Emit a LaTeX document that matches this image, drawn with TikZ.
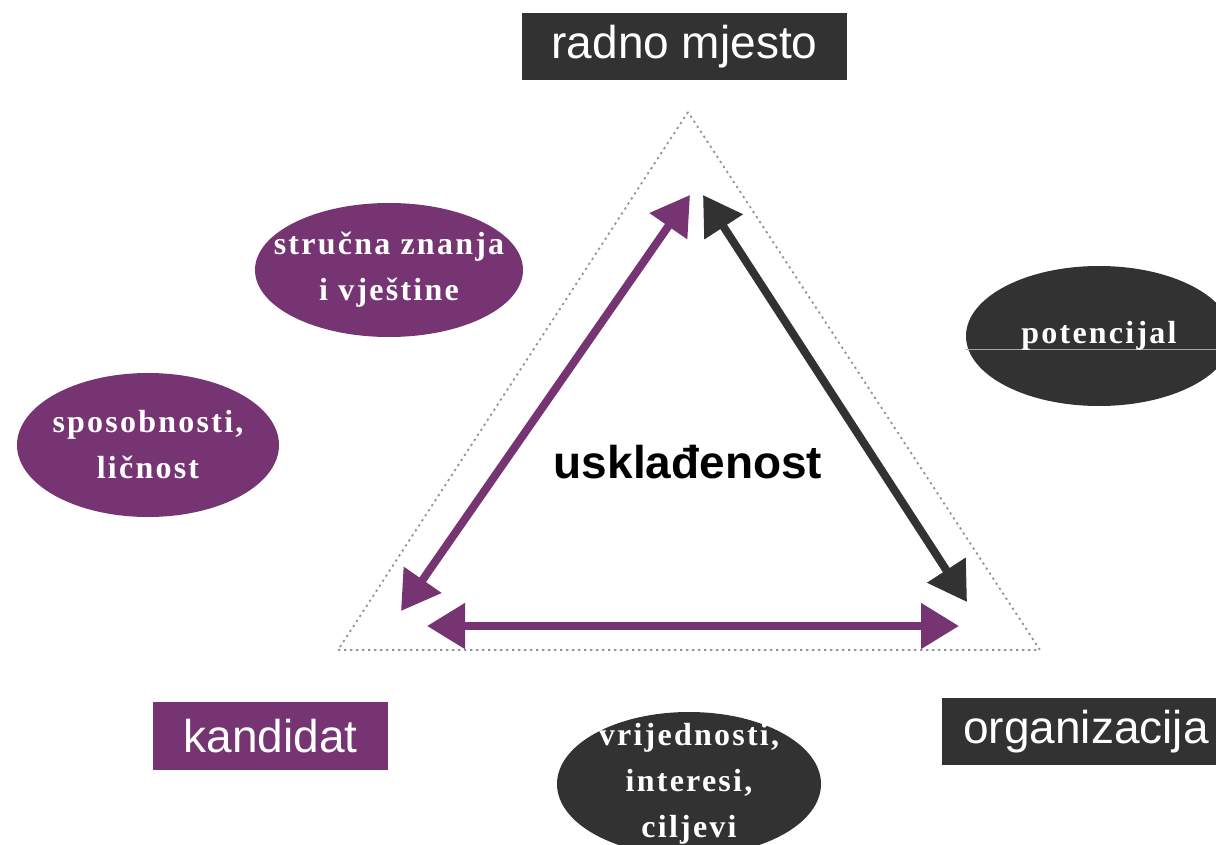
\documentclass[tikz,border=0pt]{standalone}
\usepackage{fontspec}
\setmainfont{Liberation Serif}
\newfontfamily\boxfont{Liberation Sans}
\newfontfamily\ellfont[LetterSpace=7]{Liberation Serif}
\usetikzlibrary{arrows.meta,shapes.geometric}
\definecolor{dark}{RGB}{50,50,50}
\definecolor{plum}{RGB}{118,52,114}
\tikzset{
  lbl/.style={inner sep=0pt, text=white, font=\boxfont\fontsize{46}{50}\selectfont},
  boxn/.style={draw=none, minimum height=67pt},
  ell/.style={ellipse, inner sep=0pt, draw=none},
  elltext/.style={text=white, align=center, font=\ellfont\bfseries\fontsize{32}{46}\selectfont},
  arr/.style={line width=8pt, {Triangle[length=38pt,width=44pt]}-{Triangle[length=38pt,width=44pt]}},
  tri/.style={draw=gray!85, line width=1.8pt, dash pattern=on 2.2pt off 3.8pt}
}
\begin{document}
\begin{tikzpicture}[x=1pt,y=-1pt]
\useasboundingbox (0,0) rectangle (1216,845);
\clip (0,0) rectangle (1216,845);
% dotted triangle
\coordinate (tA) at (688,112);
\coordinate (tL) at (338,650);
\coordinate (tR) at (1040,650);
\draw[tri] (tA) -- (tL) -- (tR) -- cycle;
% boxes
\node[boxn, fill=dark, minimum width=325pt] (rm) at (684.5,46.5) {};
\node[lbl] at (rm) {radno mjesto};
\node[boxn, fill=plum, minimum width=235pt, minimum height=68pt] (kd) at (270.5,736) {};
\node[lbl] at (kd) {kandidat};
\node[boxn, fill=dark, minimum width=288pt] (org) at (1086,731.5) {};
\node[lbl] at (org) {organizacija};
% arrows
\coordinate (p1) at (690,195);
\coordinate (p2) at (401,611);
\coordinate (d1) at (703,195);
\coordinate (d2) at (967,602);
\coordinate (b1) at (427,626);
\coordinate (b2) at (959,626);
\draw[arr, plum] (p1) -- (p2);
\draw[arr, dark] (d1) -- (d2);
\draw[arr, plum] (b1) -- (b2);
% center text
\node[font=\boxfont\bfseries\fontsize{46}{50}\selectfont, text=black] (usk) at (688,462) {usklađenost};
% ellipses
\node[ell, fill=plum, minimum width=268pt, minimum height=134pt] (e1) at (389,270) {};
\node[elltext] at (e1) {stručna znanja\\i vještine};
\node[ell, fill=plum, minimum width=262pt, minimum height=144pt] (e2) at (148,445) {};
\node[elltext] at (e2) {sposobnosti,\\ličnost};
\node[ell, fill=dark, minimum width=266pt, minimum height=140pt] (e3) at (1099,336) {};
\coordinate (l1) at (966,349);
\coordinate (l2) at (1216,349);
\draw[gray!70, line width=1pt] (l1) -- (l2);
\node[elltext] at (e3) {potencijal};
\node[ell, fill=dark, minimum width=264pt, minimum height=144pt] (e4) at (689,784) {};
\node[elltext] at (e4) {vrijednosti,\\interesi,\\ciljevi};
\end{tikzpicture}
\end{document}
